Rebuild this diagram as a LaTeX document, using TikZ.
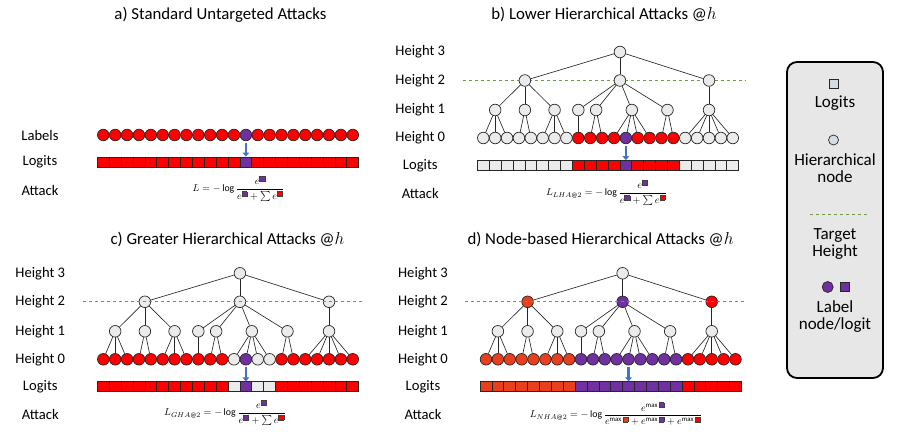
\documentclass[tikz,border=0pt]{standalone}
\usepackage{fontspec}
\setmainfont{Carlito}
\usetikzlibrary{arrows.meta}

\definecolor{nodegrey}{HTML}{EBEBEB}
\definecolor{lblred}{HTML}{FF0000}
\definecolor{lblpurple}{HTML}{7030A0}
\definecolor{lblorange}{HTML}{E8401E}
\definecolor{tgtgreen}{HTML}{6E9A4A}
\definecolor{hitblue}{HTML}{4472C4}
\definecolor{legendgrey}{HTML}{E7E7E7}
\definecolor{legendfill}{HTML}{D6DCE5}

\newcommand{\leafsp}{11.88}
% small coloured logit inside a formula
\newcommand{\lsq}[1]{\mbox{\setlength\fboxsep{0pt}\setlength\fboxrule{0.5pt}\fcolorbox{black!75}{#1}{\rule{0pt}{4.6pt}\rule{4.6pt}{0pt}}}}

% #1 prefix, #2 leaf 1, #3 leaf colours, #4-#6 height-2 colours
\newcommand{\hiertree}[6]{%
  \begin{scope}[shift={#2}]
    \foreach \h/\yy in {3/-86,2/-57.5,1/-28,0/0}
      \node[rowlabel] (#1h\h) at (-63,\yy) {Height \h};
    \node[rowlabel] (#1logits) at (-63,27.5) {Logits};
    \node[rowlabel] (#1attack) at (-63,55) {Attack};
    % height 0
    \foreach \c [count=\i] in {#3}
      \node[hnode, fill=\c] (#1l\i) at ({(\i-1)*\leafsp},0) {};
    % height 1
    \foreach \p/\f/\t [count=\j] in {1/1/3, 3.5/4/5, 6/6/8, 8/9/9, 9.5/10/11, 12.5/12/15, 15.5/16/17, 19/18/22} {
      \node[hnode] (#1m\j) at ({\p*\leafsp},-28) {};
      \foreach \i in {\f,...,\t} \draw[edge] (#1m\j) -- (#1l\i);
    }
    % height 2
    \node[hnode, fill=#4] (#1u1) at ({3.5*\leafsp},-57.5) {};
    \node[hnode, fill=#5] (#1u2) at ({11.5*\leafsp},-57.5) {};
    \node[hnode, fill=#6] (#1u3) at ({19*\leafsp},-57.5) {};
    \foreach \j in {1,2,3} \draw[edge] (#1u1) -- (#1m\j);
    \foreach \j in {4,...,7} \draw[edge] (#1u2) -- (#1m\j);
    \draw[edge] (#1u3) -- (#1m8);
    % height 3
    \node[hnode] (#1r) at ({11.5*\leafsp},-86) {};
    \foreach \j in {1,2,3} \draw[edge] (#1r) -- (#1u\j);
    % logits
    \foreach \c [count=\i] in {#3}
      \node[logit, fill=\c] (#1g\i) at ({(\i-1)*\leafsp},27.5) {};
    \draw[hitarrow] (#1l13) -- (#1g13);
  \end{scope}}

\begin{document}
\begin{tikzpicture}[
  x=1pt, y=-1pt,
  hnode/.style={draw=black!85, fill=nodegrey, circle, minimum size=11.6pt, inner sep=0pt, line width=0.7pt},
  logit/.style={draw=black!85, rectangle, minimum width=\leafsp pt, minimum height=10pt, inner sep=0pt, line width=0.7pt},
  edge/.style={draw=black!85, line width=0.65pt},
  tgtline/.style={draw=tgtgreen, dashed, line width=1pt},
  hitarrow/.style={draw=hitblue, line width=2.2pt, -{Triangle[width=6.5pt,length=4pt]}, shorten <=1.5pt},
  rowlabel/.style={font=\fontsize{14.6}{16}\selectfont},
  paneltitle/.style={font=\fontsize{16.8}{20}\selectfont},
  formula/.style={font=\fontsize{9.8}{11}\selectfont, inner sep=0pt},
  legtext/.style={font=\fontsize{17}{17}\selectfont, align=center},
  legendbox/.style={draw=black, fill=legendgrey, line width=1.8pt, rounded corners=10pt, minimum width=96pt, minimum height=316pt}
]
\useasboundingbox (0,0) rectangle (905,435);

% a) standard
\node[paneltitle] (atitle) at (220.5,15) {a) Standard Untargeted Attacks};
\node[rowlabel] (alabels) at (40,135) {Labels};
\node[rowlabel] (alogits) at (40,162) {Logits};
\node[rowlabel] (aattack) at (40,190) {Attack};
\foreach \i in {1,...,22} {
  \ifnum\i=13 \def\c{lblpurple}\else\def\c{lblred}\fi
  \node[hnode, fill=\c] (al\i) at ({103.3+(\i-1)*\leafsp},135) {};
  \node[logit, fill=\c] (ag\i) at ({103.3+(\i-1)*\leafsp},162) {};
}
\draw[hitarrow] (al13) -- (ag13);
\node[formula] (aform) at (238.5,189)
  {$\displaystyle L=-\log\frac{e^{\lsq{lblpurple}}}{e^{\lsq{lblpurple}}+\textstyle\sum e^{\lsq{lblred}}}$};

% b) lower
\node[paneltitle] (btitle) at (604,15) {b) Lower Hierarchical Attacks @$h$};
\coordinate (bdl) at (462.7,80.5);
\coordinate (bdr) at (745,80.5);
\draw[tgtline] (bdl) -- (bdr);
\hiertree{b}{(483.3,138)}{nodegrey,nodegrey,nodegrey,nodegrey,nodegrey,nodegrey,nodegrey,nodegrey,lblred,lblred,lblred,lblred,lblpurple,lblred,lblred,lblred,lblred,nodegrey,nodegrey,nodegrey,nodegrey,nodegrey}{nodegrey}{nodegrey}{nodegrey}
\node[formula] (bform) at (606.5,193)
  {$\displaystyle L_{LHA@2}=-\log\frac{e^{\lsq{lblpurple}}}{e^{\lsq{lblpurple}}+\textstyle\sum e^{\lsq{lblred}}}$};

% c) greater
\node[paneltitle] (ctitle) at (227.5,240) {c) Greater Hierarchical Attacks @$h$};
\hiertree{c}{(103.3,359.3)}{lblred,lblred,lblred,lblred,lblred,lblred,lblred,lblred,lblred,lblred,lblred,nodegrey,lblpurple,nodegrey,nodegrey,lblred,lblred,lblred,lblred,lblred,lblred,lblred}{nodegrey}{nodegrey}{nodegrey}
\coordinate (cdl) at (82.7,301.8);
\coordinate (cdr) at (363,301.8);
\draw[tgtline] (cdl) -- (cdr);
\node[formula] (cform) at (225,413)
  {$\displaystyle L_{GHA@2}=-\log\frac{e^{\lsq{lblpurple}}}{e^{\lsq{lblpurple}}+\textstyle\sum e^{\lsq{lblred}}}$};

% d) node-based
\node[paneltitle] (dtitle) at (600.5,240) {d) Node-based Hierarchical Attacks @$h$};
\hiertree{d}{(486,359.3)}{lblorange,lblorange,lblorange,lblorange,lblorange,lblorange,lblorange,lblorange,lblpurple,lblpurple,lblpurple,lblpurple,lblpurple,lblpurple,lblpurple,lblpurple,lblpurple,lblred,lblred,lblred,lblred,lblred}{lblorange}{lblpurple}{lblred}
\coordinate (ddl) at (465,301.8);
\coordinate (ddr) at (746.7,301.8);
\draw[tgtline] (ddl) -- (ddr);
\node[formula] (dform) at (616,414)
  {$\displaystyle L_{NHA@2}=-\log\frac{e^{\max\lsq{lblpurple}}}{e^{\max\lsq{lblorange}}+e^{\max\lsq{lblpurple}}+e^{\max\lsq{lblred}}}$};

% legend
\node[legendbox] (legend) at (835,220) {};
\node[logit, fill=legendfill, minimum width=9pt, minimum height=9pt] (keysq) at (833.5,83.5) {};
\node[legtext] (keylogit) at (835,103) {Logits};
\node[hnode, fill=legendfill, minimum size=10pt] (keynode) at (833.5,140) {};
\node[legtext] (keyhier) at (835,168) {Hierarchical\\node};
\coordinate (keydl) at (810,215);
\coordinate (keydr) at (868,215);
\draw[tgtline] (keydl) -- (keydr);
\node[legtext] (keytgt) at (835,244) {Target\\Height};
\node[hnode, fill=lblpurple, minimum size=11pt] (keylbl) at (827.7,287) {};
\node[logit, fill=lblpurple, minimum width=9pt, minimum height=9pt] (keylsq) at (845,287) {};
\node[legtext] (keylbltext) at (835,317) {Label\\node/logit};
\end{tikzpicture}
\end{document}
